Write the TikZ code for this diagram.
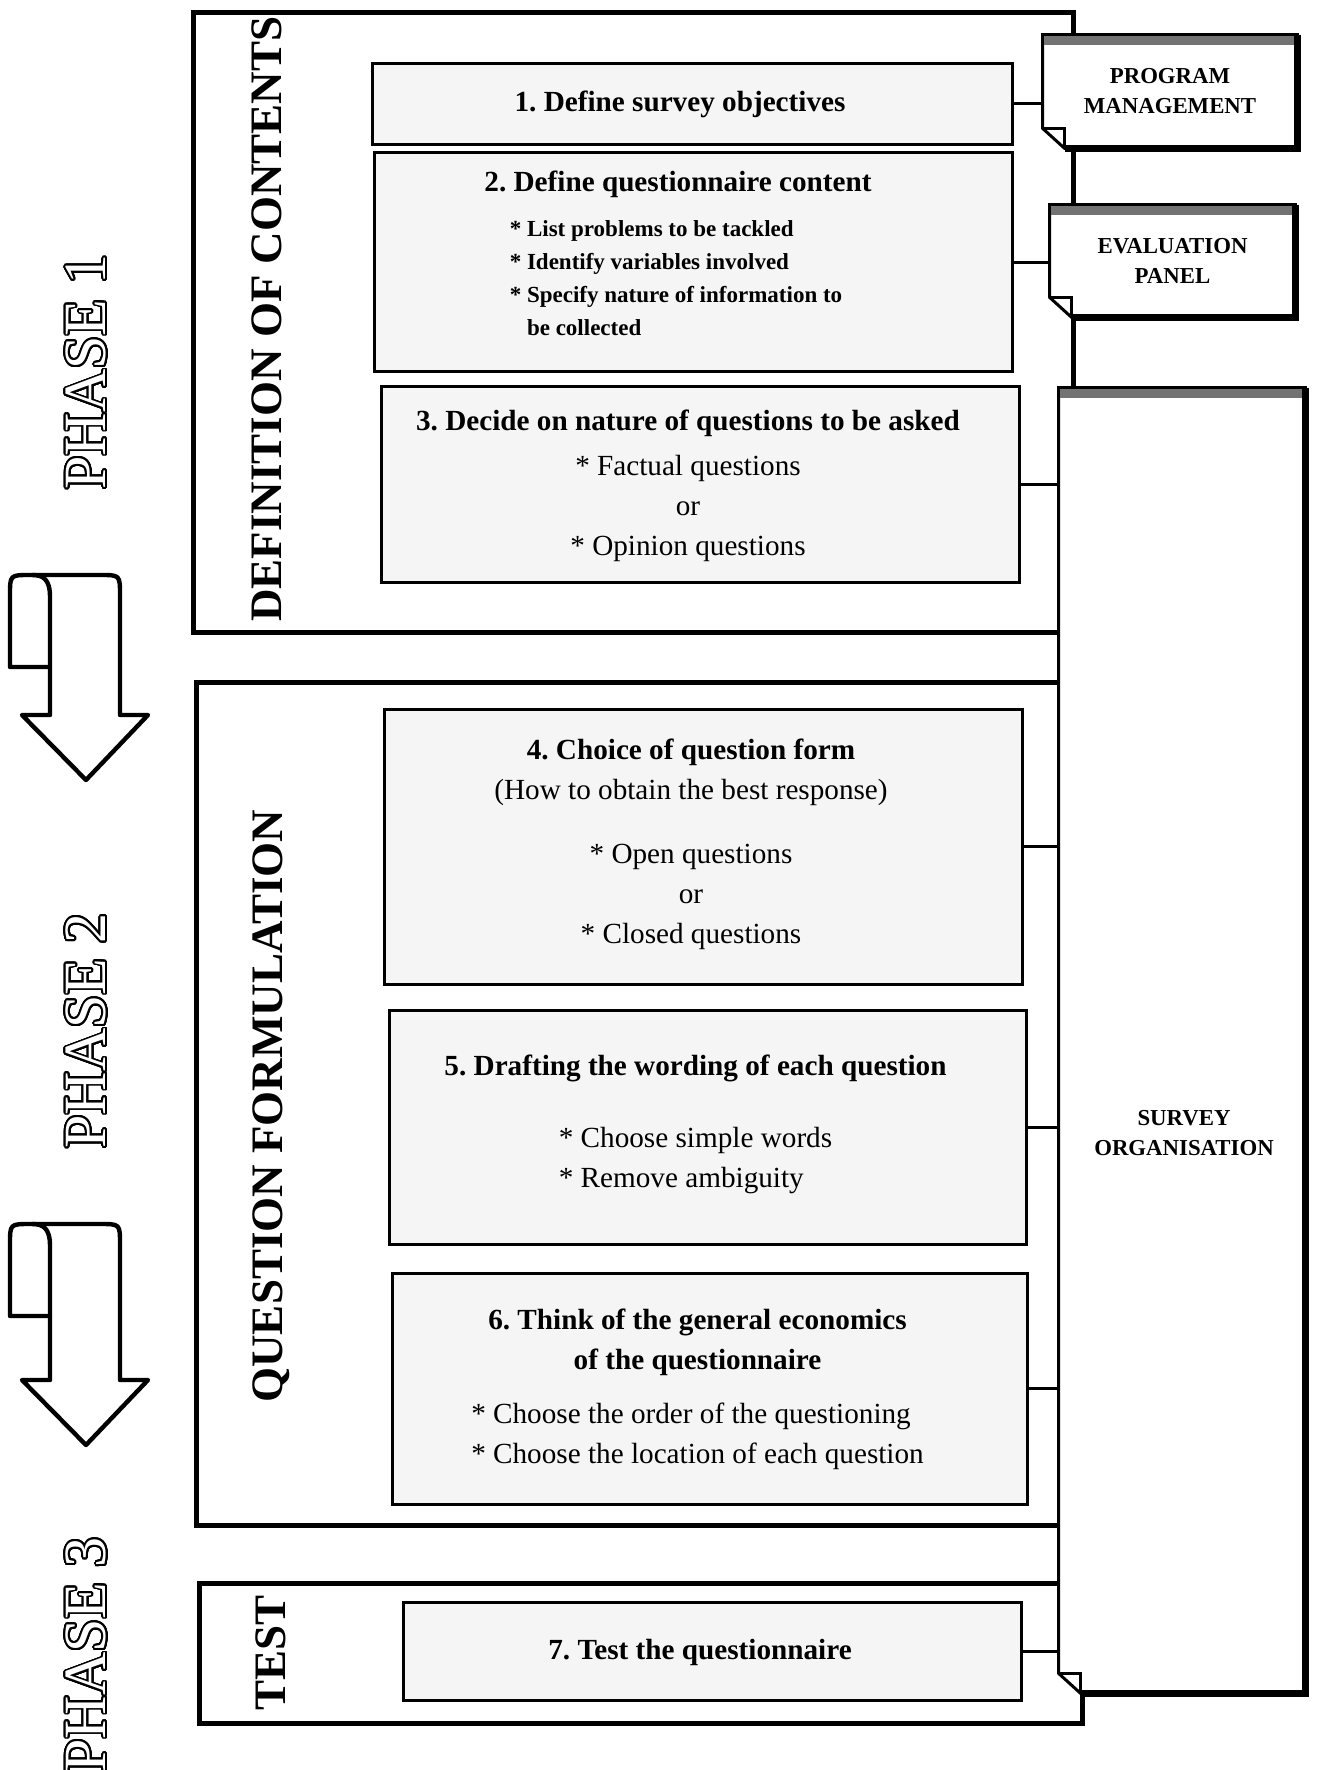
\documentclass[tikz,border=0pt]{standalone}
\usepackage{fontspec}
\setmainfont{Liberation Serif}
\usepackage[copies]{contour}
\contourlength{0.9pt}
\contournumber{32}
\frenchspacing

% step text, centred a little left of the box middle
\newcommand{\steptext}[1]{\begin{tabular}{@{}c@{\hspace{12pt}}}#1\end{tabular}}

\tikzset{
    phaseframe/.style={line width=2.5pt},
    stepbox/.style={draw, line width=1.5pt, fill=black!4, inner sep=0pt,
        font=\fontsize{14.6}{20}\selectfont},
    conn/.style={line width=1.5pt},
    docbox/.style={fill=white, inner sep=0pt, align=center,
        font=\bfseries\fontsize{11.4}{15}\selectfont},
    docline/.style={line width=1.5pt},
    docshadow/.style={line width=3.5pt},
    docband/.style={fill=black!55},
    sidelabel/.style={rotate=90, font=\bfseries\fontsize{22.5}{24}\selectfont},
    phaselabel/.style={rotate=90, text=white, font=\fontsize{30}{30}\selectfont},
    scrollarrow/.style={line width=2.2pt, line join=round},
}

% outline, band, folded corner and shadow of a document box
\newcommand{\drawdoc}[1]{%
    \draw[docline] (#1.north west) -- (#1.north east) -- (#1.south east)
        -- ([xshift=11pt]#1.south west) -- ([yshift=10pt]#1.south west) -- cycle;
    \fill[docband] ([xshift=0.8pt,yshift=-0.8pt]#1.north west) rectangle ([xshift=-0.8pt,yshift=-5pt]#1.north east);
    \draw[docline] ([yshift=10pt]#1.south west) -- ([xshift=11pt,yshift=10pt]#1.south west)
        -- ([xshift=11pt]#1.south west);
    \draw[docshadow] (#1.north east) -- (#1.south east) -- ([xshift=11pt]#1.south west);
}

\begin{document}
\begin{tikzpicture}[x=0.5pt, y=-0.5pt]
    \useasboundingbox (0,0) rectangle (1317,1770);

    % phase frames
    \draw[phaseframe] (193,13) rectangle (1073,632);
    \draw[phaseframe] (196,682) rectangle (1073,1525);
    \draw[phaseframe] (199,1583) rectangle (1082,1723);

    \node[sidelabel] (defc) at (267,319) {DEFINITION OF CONTENTS};
    \node[sidelabel] (qform) at (271,1106) {QUESTION FORMULATION};
    \node[sidelabel] (test) at (271,1653) {TEST};

    \node[phaselabel] (ph1) at (87,372) {\contour{black}{PHASE 1}};
    \node[phaselabel] (ph2) at (87,1031) {\contour{black}{PHASE 2}};
    \node[phaselabel] (ph3) at (87,1655) {\contour{black}{PHASE 3}};

    % scroll arrows between phases
    \foreach \dy/\ext in {0/0, 649/16} {
        \begin{scope}[shift={(0,\dy)}]
            \draw[scrollarrow] (50,667) -- (10,667) -- (10,595) .. controls (10,575) .. (30,575)
                -- (100,575) .. controls (120,575) .. (120,595) -- (120,715+\ext) -- (148,715+\ext)
                -- (86,780+\ext) -- (22,715+\ext) -- (50,715+\ext) -- cycle;
            \draw[scrollarrow] (50,667) -- (50,597) .. controls (50,579) and (43,575) .. (32,575);
        \end{scope}
    }

    % steps
    \node[stepbox, minimum width=320pt, minimum height=40.5pt] (b1) at (692,104)
        {\steptext{\textbf{1. Define survey objectives}}};
    \node[stepbox, minimum width=319pt, minimum height=109.5pt] (b2) at (693,262.5)
        {\steptext{\textbf{2. Define questionnaire content}\hspace*{3pt}\\[2.5pt]
         {\bfseries\fontsize{11.5}{16.5}\selectfont
          \begin{tabular}[t]{@{}l@{\hspace{5pt}}}{*} List problems to be tackled\\ {*} Identify variables involved\\
          {*} Specify nature of information to\\ \phantom{*} be collected\\[8pt]\end{tabular}}}};
    \node[stepbox, minimum width=319pt, minimum height=97.5pt] (b3) at (700,484.5)
        {\steptext{\textbf{3. Decide on nature of questions to be asked}\\[2.5pt]
         {*} Factual questions\\ or\\ {*} Opinion questions}};
    \node[stepbox, minimum width=319pt, minimum height=137.5pt] (b4) at (703,846.5)
        {\steptext{\textbf{4. Choice of question form}\\ (How to obtain the best response)\\[12pt]
         {*} Open questions\\ or\\ {*} Closed questions\\[3.5pt]}};
    \node[stepbox, minimum width=318.5pt, minimum height=117pt] (b5) at (707.5,1127)
        {\steptext{\textbf{5. Drafting the wording of each question}\\[16pt]
         \begin{tabular}[t]{@{}l@{}}{*} Choose simple words\\ {*} Remove ambiguity\\[4pt]\end{tabular}}};
    \node[stepbox, minimum width=317.5pt, minimum height=115.5pt] (b6) at (709.5,1388.5)
        {\steptext{\textbf{6. Think of the general economics}\\ \textbf{of the questionnaire}\\[7pt]
         \begin{tabular}[t]{@{}l@{}}{*} Choose the order of the questioning\\
         {*} Choose the location of each question\end{tabular}}};
    \node[stepbox, minimum width=309pt, minimum height=49pt] (b7) at (712,1651)
        {\steptext{\textbf{7. Test the questionnaire}}};

    % documents
    \node[docbox, minimum width=127pt, minimum height=56.5pt] (pm) at (1170,91.5)
        {PROGRAM\\MANAGEMENT};
    \drawdoc{pm}
    \node[docbox, minimum width=122.5pt, minimum height=56pt] (ep) at (1172.5,261)
        {EVALUATION\\PANEL};
    \drawdoc{ep}
    \node[docbox, minimum width=123pt, minimum height=652.5pt] (so) at (1182,1040.5) {};
    \drawdoc{so}
    \node[docbox, fill=none] (sotext) at (1184,1133) {SURVEY\\ORGANISATION};

    % links
    \draw[conn] (b1.east) -- (b1.east -| pm.west);
    \draw[conn] (b2.east) -- (b2.east -| ep.west);
    \foreach \b in {b3,b4,b5,b6,b7}
        \draw[conn] (\b.east) -- (\b.east -| so.west);
\end{tikzpicture}
\end{document}
